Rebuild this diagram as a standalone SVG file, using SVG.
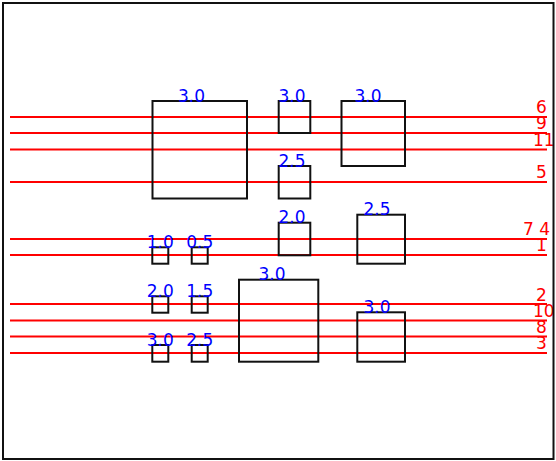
<svg xmlns="http://www.w3.org/2000/svg" width="556" height="461" viewBox="0 0 556 461">
<defs>
<style>
.bx{fill:none;stroke:#111;stroke-width:2}
.ln{stroke:#ff0000;stroke-width:2}
.bl{fill:#0000ff;font-family:"DejaVu Sans",sans-serif;font-size:17px;text-anchor:middle}
.rd{fill:#ff0000;font-family:"DejaVu Sans",sans-serif;font-size:17px}
</style>
<clipPath id="fr"><rect x="3" y="3" width="550" height="455"/></clipPath>
</defs>
<rect x="0" y="0" width="556" height="461" fill="#fff"/>
<g id="connectors">
<line class="ln" x1="10" y1="117" x2="547" y2="117"/>
<line class="ln" x1="10" y1="133" x2="547" y2="133"/>
<line class="ln" x1="10" y1="149.5" x2="547" y2="149.5"/>
<line class="ln" x1="10" y1="182" x2="547" y2="182"/>
<line class="ln" x1="10" y1="239" x2="547" y2="239"/>
<line class="ln" x1="10" y1="255" x2="547" y2="255"/>
<line class="ln" x1="10" y1="304" x2="547" y2="304"/>
<line class="ln" x1="10" y1="320.5" x2="547" y2="320.5"/>
<line class="ln" x1="10" y1="336.5" x2="547" y2="336.5"/>
<line class="ln" x1="10" y1="353" x2="547" y2="353"/>
</g>
<g id="line-labels" clip-path="url(#fr)">
<text class="rd" x="536" y="113">6</text>
<text class="rd" x="536" y="129">9</text>
<text class="rd" x="533" y="146">11</text>
<text class="rd" x="536" y="178">5</text>
<text class="rd" x="523" y="235">7 4</text>
<text class="rd" x="536" y="251">1</text>
<text class="rd" x="536" y="301">2</text>
<text class="rd" x="533" y="317">10</text>
<text class="rd" x="536" y="333">8</text>
<text class="rd" x="536" y="349">3</text>
</g>
<g id="boxA"><rect class="bx" x="152.5" y="101" width="94.5" height="97.5"/><text class="bl" x="191.5" y="101.5">3.0</text></g>
<g id="boxB"><rect class="bx" x="278.7" y="101" width="31.6" height="32"/><text class="bl" x="292" y="101.5">3.0</text></g>
<g id="boxC"><rect class="bx" x="341.5" y="101" width="63.5" height="65"/><text class="bl" x="368" y="101.5">3.0</text></g>
<g id="boxD"><rect class="bx" x="278.7" y="166" width="31.6" height="32.5"/><text class="bl" x="292" y="166.5">2.5</text></g>
<g id="boxE"><rect class="bx" x="278.7" y="222.7" width="31.6" height="32.6"/><text class="bl" x="292" y="223">2.0</text></g>
<g id="boxF"><rect class="bx" x="357.3" y="214.7" width="47.7" height="49"/><text class="bl" x="377" y="215">2.5</text></g>
<g id="s1"><rect class="bx" x="152.3" y="247.3" width="16" height="16.4"/><text class="bl" x="160.3" y="247.5">1.0</text></g>
<g id="s2"><rect class="bx" x="191.7" y="247.3" width="16" height="16.4"/><text class="bl" x="199.7" y="247.5">0.5</text></g>
<g id="boxG"><rect class="bx" x="239" y="279.7" width="79.3" height="82"/><text class="bl" x="272" y="280">3.0</text></g>
<g id="s3"><rect class="bx" x="152.3" y="296.3" width="16" height="16.4"/><text class="bl" x="160.3" y="296.5">2.0</text></g>
<g id="s4"><rect class="bx" x="191.7" y="296.3" width="16" height="16.4"/><text class="bl" x="199.7" y="296.5">1.5</text></g>
<g id="boxH"><rect class="bx" x="357.3" y="312.3" width="47.7" height="49.4"/><text class="bl" x="377" y="312.5">3.0</text></g>
<g id="s5"><rect class="bx" x="152.3" y="345" width="16" height="16.7"/><text class="bl" x="160.3" y="345.5">3.0</text></g>
<g id="s6"><rect class="bx" x="191.7" y="345" width="16" height="16.7"/><text class="bl" x="199.7" y="345.5">2.5</text></g>
<rect x="3" y="3" width="550.5" height="456" fill="none" stroke="#111" stroke-width="2"/>
</svg>
